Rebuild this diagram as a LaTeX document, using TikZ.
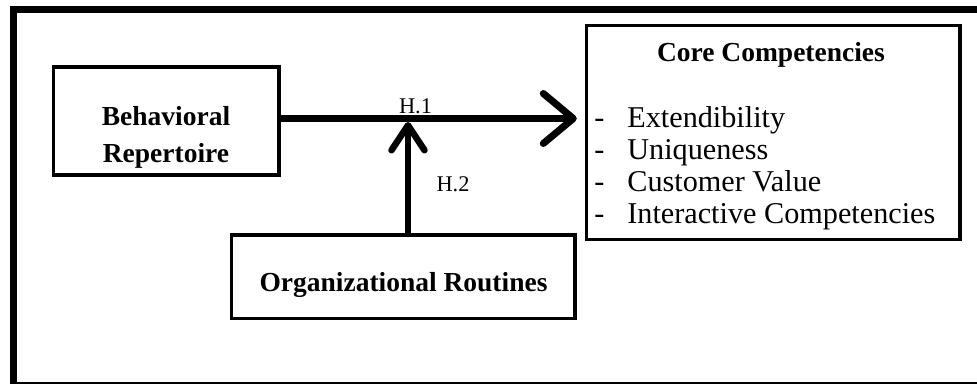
\documentclass[tikz,border=0pt]{standalone}
\usepackage{fontspec}
\setmainfont{Liberation Serif}
\usetikzlibrary{arrows.meta}

\begin{document}
\begin{tikzpicture}[x=0.02cm, y=-0.02cm,
  every node/.style={inner sep=0pt},
  box/.style={draw, line width=0.07cm},
  boldtxt/.style={font=\fontsize{15.65}{21}\selectfont\bfseries, align=center},
  listtxt/.style={font=\fontsize{17.2}{18}\selectfont, anchor=base west},
  lbl/.style={font=\fontsize{12.75}{14}\selectfont, anchor=base},
  mainarr/.style={-{Straight Barb[length=0.6cm,width=1cm,round]}, line width=0.14cm},
  modarr/.style={-{Straight Barb[length=0.5cm,width=0.66cm,round]}, line width=0.13cm}
]
\clip (0,0) rectangle (977,384);
\draw[line width=0.14cm] (13.5,10) rectangle (1000,385.5);

\node[box, minimum width=4.51cm, minimum height=2.16cm] (beh) at (166.25,121) {};
\node[boldtxt] (behtxt) at (166,137) {Behavioral\\Repertoire};

\node[box, minimum width=7.47cm, minimum height=4.28cm] (core) at (773.25,132.5) {};
\node[boldtxt, anchor=base] (coretxt) at (771,62) {Core Competencies};
\node[listtxt] (ext) at (594,127.5) {-\hspace{0.76em}Extendibility};
\node[listtxt] (uniq) at (594,159.5) {-\hspace{0.76em}Uniqueness};
\node[listtxt] (cval) at (594,191.5) {-\hspace{0.76em}Customer Value};
\node[listtxt] (inter) at (594,223.5) {-\hspace{0.76em}Interactive Competencies};

\node[box, minimum width=6.87cm, minimum height=1.67cm] (org) at (403.25,276.75) {};
\node[boldtxt, anchor=base] (orgtxt) at (403.5,292) {Organizational Routines};

\coordinate (mod) at (408,118.5);
\draw[mainarr, shorten >=0.16cm] (mod -| beh.east) -- (mod -| core.west);
\draw[modarr] (org.north -| mod) -- ([yshift=-0.07cm]mod);

\node[lbl] (h1) at (415.5,114) {H.1};
\node[lbl] (h2) at (453,192) {H.2};
\end{tikzpicture}
\end{document}
